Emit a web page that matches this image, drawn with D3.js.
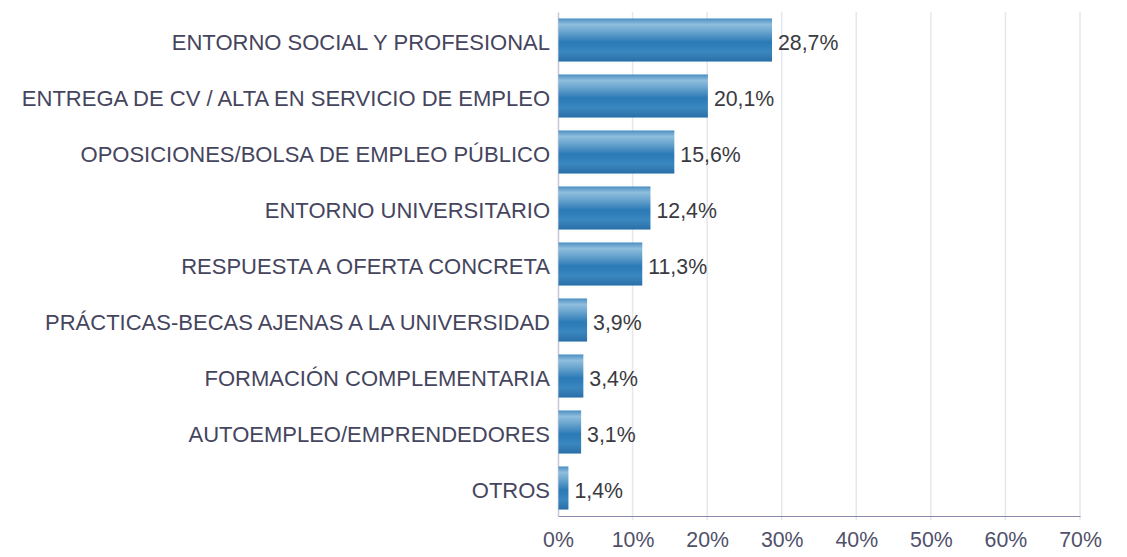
<!DOCTYPE html>
<html>
<head>
<meta charset="utf-8">
<script src="https://cdn.jsdelivr.net/npm/d3@7"></script>
<style>
  html, body { margin: 0; padding: 0; background: #fff; }
  svg { display: block; font-family: "Liberation Sans", Arial, sans-serif; }
</style>
</head>
<body>
<svg id="chart" width="1127" height="557"></svg>
<script>
// Vías de acceso al empleo (% de respuestas)
const categories = [
  "ENTORNO SOCIAL Y PROFESIONAL",
  "ENTREGA DE CV / ALTA EN SERVICIO DE EMPLEO",
  "OPOSICIONES/BOLSA DE EMPLEO PÚBLICO",
  "ENTORNO UNIVERSITARIO",
  "RESPUESTA A OFERTA CONCRETA",
  "PRÁCTICAS-BECAS AJENAS A LA UNIVERSIDAD",
  "FORMACIÓN COMPLEMENTARIA",
  "AUTOEMPLEO/EMPRENDEDORES",
  "OTROS"
];
const values = [28.7, 20.1, 15.6, 12.4, 11.3, 3.9, 3.4, 3.1, 1.4];
const tickValues = [0, 10, 20, 30, 40, 50, 60, 70];

const svg = d3.select("#chart");
const plotLeft = 558, plotRight = 1080, plotTop = 12, plotBottom = 516;
const fontFamily = "Liberation Sans, Arial, sans-serif";

const x = d3.scaleLinear().domain([0, 70]).range([plotLeft, plotRight]);
const y = d3.scaleBand().domain(categories).range([plotTop, plotBottom])
  .paddingInner(0.23).paddingOuter(0.115);

const fmt = v => d3.format(".1f")(v).replace(".", ",") + "%";

// Bar gradient
const defs = svg.append("defs");
const grad = defs.append("linearGradient").attr("id", "barGrad")
  .attr("x1", 0).attr("y1", 0).attr("x2", 0).attr("y2", 1);
[[0, "#4a8fc3"], [0.14, "#8fbedd"], [0.3, "#6aa5cf"], [0.55, "#2b7ab6"],
 [0.78, "#3a87bf"], [1, "#2a6ea6"]].forEach(([o, c]) =>
  grad.append("stop").attr("offset", o).attr("stop-color", c));

// Vertical gridlines
svg.append("g").selectAll("line").data(tickValues.slice(1)).join("line")
  .attr("x1", d => x(d)).attr("x2", d => x(d))
  .attr("y1", plotTop).attr("y2", plotBottom + 4)
  .attr("stroke", "#e6e6ee").attr("stroke-width", 1.5);

// Bottom axis
const xAxis = d3.axisBottom(x).tickValues(tickValues).tickSize(0).tickPadding(16)
  .tickFormat(d => d + "%");
const gx = svg.append("g").attr("transform", `translate(0,${plotBottom})`).call(xAxis);
gx.select(".domain").attr("stroke", "#8a8aac").attr("stroke-width", 1.2);
gx.selectAll("text").attr("fill", "#50506a").attr("font-size", 21.3)
  .attr("font-family", fontFamily);

// Left axis line and category labels
const yAxis = d3.axisLeft(y).tickSize(0).tickPadding(8);
const gy = svg.append("g").attr("transform", `translate(${plotLeft},0)`).call(yAxis);
gy.select(".domain").attr("stroke", "#c6c6d8").attr("stroke-width", 1.5);
gy.selectAll("text").attr("fill", "#45455e").attr("font-size", 22)
  .attr("font-family", fontFamily).attr("dy", "0.45em");

// Bars
svg.append("g").selectAll("rect").data(values).join("rect")
  .attr("x", x(0) + 0.5)
  .attr("y", (d, i) => y(categories[i]))
  .attr("width", d => x(d) - x(0) - 0.5)
  .attr("height", y.bandwidth())
  .attr("fill", "url(#barGrad)");

// Value labels
svg.append("g").selectAll("text").data(values).join("text")
  .attr("x", d => x(d) + 6)
  .attr("y", (d, i) => y(categories[i]) + y.bandwidth() / 2)
  .attr("dy", "0.47em")
  .attr("fill", "#3a3a40").attr("font-size", 21.3)
  .attr("font-family", fontFamily)
  .text(d => fmt(d));
</script>
</body>
</html>
